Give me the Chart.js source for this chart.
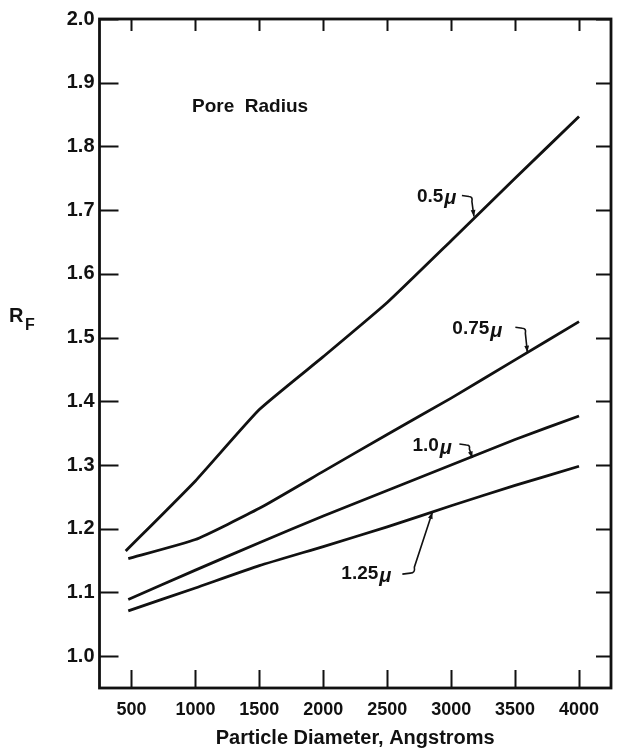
<!DOCTYPE html>
<html>
<head>
<meta charset="utf-8">
<script src="https://cdn.jsdelivr.net/npm/chart.js@4.4.0/dist/chart.umd.min.js"></script>
<style>
  html, body { margin: 0; padding: 0; background: #fff; }
  canvas { display: block; }
</style>
</head>
<body>
<canvas id="myChart" width="618" height="751"></canvas>
<script>
"use strict";

// particle diameter (Angstroms) and R_F for each pore radius
var xTicks = [500, 1000, 1500, 2000, 2500, 3000, 3500, 4000];
var yTicks = [1.0, 1.1, 1.2, 1.3, 1.4, 1.5, 1.6, 1.7, 1.8, 1.9, 2.0];

var diam050 = [455, 1000, 1500, 2000, 2500, 3000, 3500, 4000];
var diam = [475, 1000, 1500, 2000, 2500, 3000, 3500, 4000];

var rf050 = [1.165, 1.275, 1.387, 1.470, 1.555, 1.652, 1.750, 1.847];
var rf075 = [1.153, 1.183, 1.232, 1.290, 1.348, 1.405, 1.465, 1.525];
var rf100 = [1.089, 1.135, 1.178, 1.220, 1.260, 1.300, 1.340, 1.377];
var rf125 = [1.071, 1.107, 1.142, 1.172, 1.203, 1.236, 1.268, 1.298];

var ink = '#111';
var font = '"Liberation Sans", Arial, sans-serif';

function pts(xs, ys) {
    return xs.map(function (x, i) { return { x: x, y: ys[i] }; });
}

function line(xs, ys) {
    return {
        data: pts(xs, ys),
        borderColor: ink,
        borderWidth: 2.8,
        pointRadius: 0,
        tension: 0.15,
        fill: false
    };
}

// curve labels: arrow tip sits on the curve (data units), text and hook are px offsets from the tip
var labels = [
    { num: '0.5', tip: [3178, 1.690], text: [-57, -20], path: [[-12, -21], [-5, -20], [-2, -15]] },
    { num: '0.75', tip: [3596, 1.477], text: [-75, -23], path: [[-12, -25], [-5, -24], [-2, -19]] },
    { num: '1.0', tip: [3166, 1.311], text: [-60, -12], path: [[-13, -14], [-6, -13], [-3, -9]] },
    { num: '1.25', tip: [2853, 1.226], text: [-91, 62], path: [[-30, 62], [-22, 61], [-18, 55]] }
];

var paperPlugin = {
    id: 'paper',
    afterDatasetsDraw: function (chart) {
        var ctx = chart.ctx;
        var a = chart.chartArea;
        var sx = chart.scales.x, sy = chart.scales.y;
        ctx.save();
        ctx.strokeStyle = ink;
        ctx.lineWidth = 2;
        ctx.beginPath();
        sx.ticks.forEach(function (t) {
            var px = Math.round(sx.getPixelForValue(t.value)) + 0.5;
            ctx.moveTo(px, a.bottom); ctx.lineTo(px, a.bottom - 18);
            ctx.moveTo(px, a.top); ctx.lineTo(px, a.top + 12);
        });
        sy.ticks.forEach(function (t) {
            var py = Math.round(sy.getPixelForValue(t.value)) + 0.5;
            ctx.moveTo(a.left, py); ctx.lineTo(a.left + 19, py);
            ctx.moveTo(a.right, py); ctx.lineTo(a.right - 15, py);
        });
        ctx.stroke();

        ctx.lineWidth = 2.8;
        ctx.strokeRect(a.left, a.top, a.right - a.left, a.bottom - a.top);

        // curve labels with their little hooked arrows
        labels.forEach(function (l) {
            var tx = sx.getPixelForValue(l.tip[0]);
            var ty = sy.getPixelForValue(l.tip[1]);
            var lx = tx + l.text[0];
            var ly = ty + l.text[1];
            ctx.fillStyle = ink;
            ctx.textBaseline = 'middle';
            ctx.textAlign = 'left';
            ctx.font = 'bold 19px ' + font;
            ctx.fillText(l.num, lx, ly);
            var w = ctx.measureText(l.num).width;
            ctx.font = 'italic bold 20px ' + font;
            ctx.fillText('\u03bc', lx + w + 1, ly + 2);

            var p = l.path;
            ctx.lineWidth = 1.6;
            ctx.beginPath();
            ctx.moveTo(tx + p[0][0], ty + p[0][1]);
            ctx.lineTo(tx + p[1][0], ty + p[1][1]);
            ctx.quadraticCurveTo(tx + p[2][0] + 1, ty + p[1][1], tx + p[2][0], ty + p[2][1]);
            ctx.lineTo(tx, ty);
            ctx.stroke();
            // arrow head
            var ang = Math.atan2(-p[2][1], -p[2][0]);
            ctx.beginPath();
            ctx.moveTo(tx, ty);
            ctx.lineTo(tx - 7 * Math.cos(ang - 0.35), ty - 7 * Math.sin(ang - 0.35));
            ctx.lineTo(tx - 7 * Math.cos(ang + 0.35), ty - 7 * Math.sin(ang + 0.35));
            ctx.closePath();
            ctx.fill();
        });

        ctx.fillStyle = ink;
        ctx.textAlign = 'left';
        ctx.textBaseline = 'middle';
        ctx.font = 'bold 19px ' + font;
        ctx.fillText('Pore  Radius', 192, 107);

        ctx.font = 'bold 20px ' + font;
        ctx.fillText('R', 9, 316);
        ctx.font = 'bold 16px ' + font;
        ctx.fillText('F', 25, 326);

        ctx.textAlign = 'center';
        ctx.font = 'bold 20px ' + font;
        ctx.fillText('Particle Diameter, Angstroms', (a.left + a.right) / 2, 738);
        ctx.restore();
    }
};

var ctx = document.getElementById('myChart');
var myChart = new Chart(ctx, {
    type: 'line',
    data: {
        datasets: [
            line(diam050, rf050),
            line(diam, rf075),
            line(diam, rf100),
            line(diam, rf125)
        ]
    },
    options: {
        responsive: false,
        animation: false,
        layout: { padding: { top: 19, right: 7, left: 0, bottom: 0 } },
        plugins: { legend: { display: false }, tooltip: { enabled: false } },
        scales: {
            x: {
                type: 'linear',
                min: 250,
                max: 4250,
                grid: { display: false, drawTicks: false },
                border: { display: false },
                afterBuildTicks: function (s) { s.ticks = xTicks.map(function (v) { return { value: v }; }); },
                afterFit: function (s) { s.height = 63; },
                ticks: {
                    color: ink,
                    padding: 11,
                    maxRotation: 0,
                    autoSkip: false,
                    font: { family: font, size: 18, weight: 'bold' },
                    callback: function (v) { return String(v); }
                }
            },
            y: {
                type: 'linear',
                min: 0.95,
                max: 2.0,
                grid: { display: false, drawTicks: false },
                border: { display: false },
                afterBuildTicks: function (s) { s.ticks = yTicks.map(function (v) { return { value: v }; }); },
                afterFit: function (s) { s.width = 99.5; },
                ticks: {
                    color: ink,
                    padding: 5,
                    autoSkip: false,
                    font: { family: font, size: 20, weight: 'bold' },
                    callback: function (v) { return Number(v).toFixed(1); }
                }
            }
        }
    },
    plugins: [paperPlugin]
});
</script>
</body>
</html>
